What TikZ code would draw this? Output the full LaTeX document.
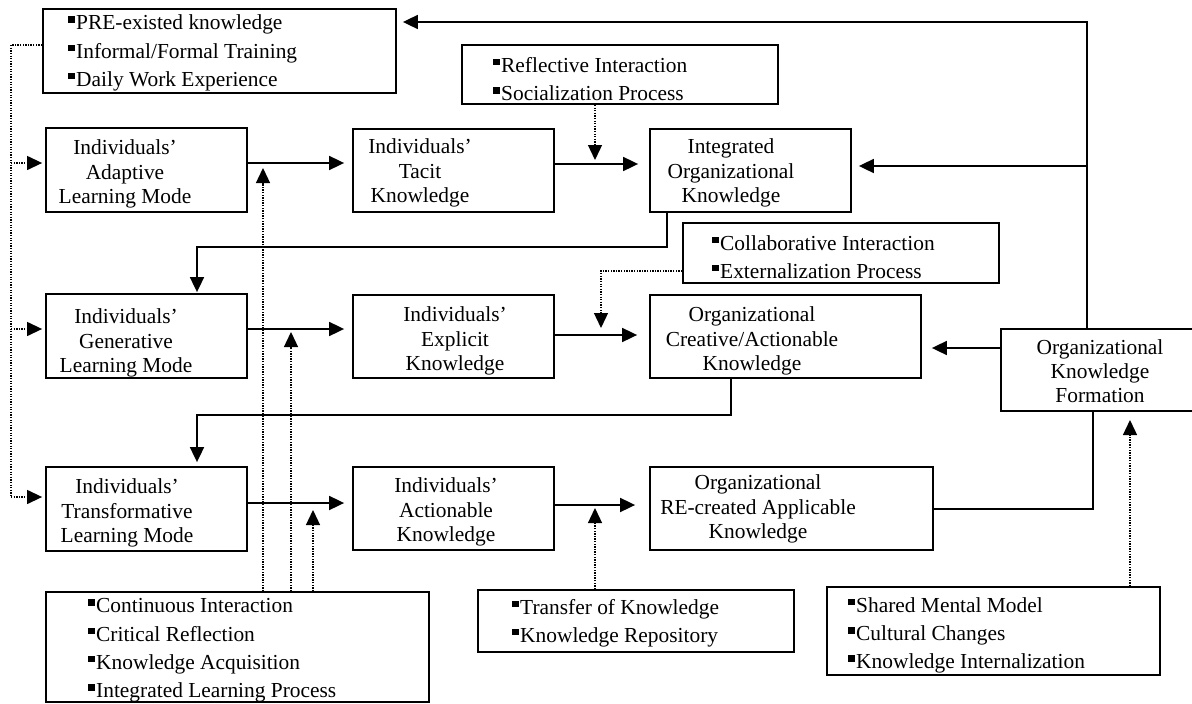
\documentclass[tikz,border=0pt]{standalone}
\usepackage{fontspec}
\setmainfont{Liberation Serif}
\usetikzlibrary{arrows.meta}
\newcommand{\bul}{\rule[7pt]{6.5pt}{6.5pt}\hspace{1.5pt}}
\tikzset{
  box/.style={draw, line width=1.8pt, inner sep=0pt},
  boxtext/.style={inner sep=0pt, align=center, font=\fontsize{21.4}{24.3}\selectfont},
  listtext/.style={inner sep=0pt, align=left, anchor=west, font=\fontsize{21.4}{28.3}\selectfont},
  conn/.style={line width=1.8pt},
  arr/.style={line width=1.8pt, -{Triangle[length=15pt,width=14pt]}},
  dotline/.style={line width=1.3pt, dash pattern=on 1.3pt off 1.3pt},
  dotarr/.style={line width=1.3pt, dash pattern=on 1.3pt off 1.3pt, -{Triangle[length=15pt,width=14pt]}}
}
\begin{document}
\begin{tikzpicture}[x=1pt,y=-1pt]
\useasboundingbox (0,0) rectangle (1192,704);
\clip (0,0) rectangle (1192,704);
% boxes
\node[box, minimum width=353pt, minimum height=84pt] (pre) at (219.5,51) {};
\node[box, minimum width=316pt, minimum height=59pt] (refl) at (620,74.5) {};
\node[box, minimum width=201pt, minimum height=84pt] (ad) at (146.5,170) {};
\node[box, minimum width=201pt, minimum height=83pt] (tac) at (453.5,170.5) {};
\node[box, minimum width=201pt, minimum height=83pt] (integ) at (750.5,170.5) {};
\node[box, minimum width=316pt, minimum height=60pt] (coll) at (841,253) {};
\node[box, minimum width=201pt, minimum height=84pt] (gen) at (146.5,336) {};
\node[box, minimum width=201pt, minimum height=83pt] (expl) at (453.5,336.5) {};
\node[box, minimum width=271pt, minimum height=83pt] (crea) at (785.5,336.5) {};
\node[box, minimum width=198pt, minimum height=82pt] (okf) at (1100,370) {};
\node[box, minimum width=201pt, minimum height=84pt] (trans) at (146.5,509) {};
\node[box, minimum width=201pt, minimum height=83pt] (act) at (453.5,508.5) {};
\node[box, minimum width=283pt, minimum height=83pt] (recr) at (791.5,508.5) {};
\node[box, minimum width=383pt, minimum height=110pt] (cont) at (237.5,647) {};
\node[box, minimum width=316pt, minimum height=62pt] (trf) at (636,621) {};
\node[box, minimum width=333pt, minimum height=88pt] (smm) at (993.5,631) {};
% box texts
\node[boxtext] (tad) at (125,174) {Individuals’\\Adaptive\\Learning Mode};
\node[boxtext] (ttac) at (420,173) {Individuals’\\Tacit\\Knowledge};
\node[boxtext] (tinteg) at (731,173) {Integrated\\Organizational\\Knowledge};
\node[boxtext] (tgen) at (126,343) {Individuals’\\Generative\\Learning Mode};
\node[boxtext] (texpl) at (455,341) {Individuals’\\Explicit\\Knowledge};
\node[boxtext] (tcrea) at (752,341) {Organizational\\Creative/Actionable\\Knowledge};
\node[boxtext] (tokf) at (1100,371) {Organizational\\Knowledge\\Formation};
\node[boxtext] (ttrans) at (127,513) {Individuals’\\Transformative\\Learning Mode};
\node[boxtext] (tact) at (446,512) {Individuals’\\Actionable\\Knowledge};
\node[boxtext] (trecr) at (758,509) {Organizational\\RE-created Applicable\\Knowledge};
% bullet lists
\node[listtext] (lpre) at (68,53) {\bul PRE-existed knowledge\\\bul Informal/Formal Training\\\bul Daily Work Experience};
\node[listtext] (lrefl) at (493,79) {\bul Reflective Interaction\\\bul Socialization Process};
\node[listtext] (lcoll) at (712,257) {\bul Collaborative Interaction\\\bul Externalization Process};
\node[listtext] (lcont) at (88,650.5) {\bul Continuous Interaction\\\bul Critical Reflection\\\bul Knowledge Acquisition\\\bul Integrated Learning Process};
\node[listtext] (ltrf) at (512,623) {\bul Transfer of Knowledge\\\bul Knowledge Repository};
\node[listtext] (lsmm) at (848,635.5) {\bul Shared Mental Model\\\bul Cultural Changes\\\bul Knowledge Internalization};
% bend points and free ends
\coordinate (jt) at (1087,22);
\coordinate (jm) at (1087,166);
\coordinate (b1a) at (667,247);
\coordinate (b1b) at (197,247);
\coordinate (b2a) at (731,415);
\coordinate (b2b) at (197,415);
\coordinate (b3) at (1093,509);
\coordinate (dl) at (11,45);
\coordinate (dlb) at (11,497);
\coordinate (dc) at (601,271);
\coordinate (e1) at (595,160);
\coordinate (e2) at (601,328);
\coordinate (e3) at (263,168);
\coordinate (e4) at (291,332);
\coordinate (e5) at (313,510);
\coordinate (e6) at (595,508);
\coordinate (e7) at (1130,420);
% solid connectors
\draw[arr, shorten >=8pt] (ad.east |- 0,163) -- (tac.west |- 0,163);
\draw[arr, shorten >=11pt] (tac.east |- 0,164) -- (integ.west |- 0,164);
\draw[arr, shorten >=8pt] (gen.east |- 0,329) -- (expl.west |- 0,329);
\draw[arr, shorten >=12pt] (expl.east |- 0,335) -- (crea.west |- 0,335);
\draw[arr, shorten >=8pt] (trans.east |- 0,503) -- (act.west |- 0,503);
\draw[arr, shorten >=14pt] (act.east |- 0,505) -- (recr.west |- 0,505);
\draw[arr, shorten >=1pt] (integ.south -| b1a) -- (b1a) -- (b1b) -- (gen.north -| b1b);
\draw[arr, shorten >=4pt] (crea.south -| b2a) -- (b2a) -- (b2b) -- (trans.north -| b2b);
\draw[conn] (recr.east |- b3) -- (b3) -- (okf.south -| b3);
\draw[arr, shorten >=6pt] (okf.north -| jt) -- (jt) -- (pre.east |- jt);
\draw[arr, shorten >=7pt] (jm) -- (integ.east |- jm);
\draw[arr, shorten >=10pt] (okf.west |- 0,348) -- (crea.east |- 0,348);
% dotted connectors
\draw[dotline] (pre.west |- dl) -- (dl) -- (dlb);
\draw[dotarr, shorten >=3pt] (dlb) -- (trans.west |- dlb);
\draw[dotarr, shorten >=3pt] (dl |- 0,163) -- (ad.west |- 0,163);
\draw[dotarr, shorten >=3pt] (dl |- 0,329) -- (gen.west |- 0,329);
\draw[dotarr] (refl.south -| e1) -- (e1);
\draw[dotarr] (coll.west |- dc) -- (dc) -- (e2);
\draw[dotarr] (cont.north -| e3) -- (e3);
\draw[dotarr] (cont.north -| e4) -- (e4);
\draw[dotarr] (cont.north -| e5) -- (e5);
\draw[dotarr] (trf.north -| e6) -- (e6);
\draw[dotarr] (smm.north -| e7) -- (e7);
\end{tikzpicture}
\end{document}
